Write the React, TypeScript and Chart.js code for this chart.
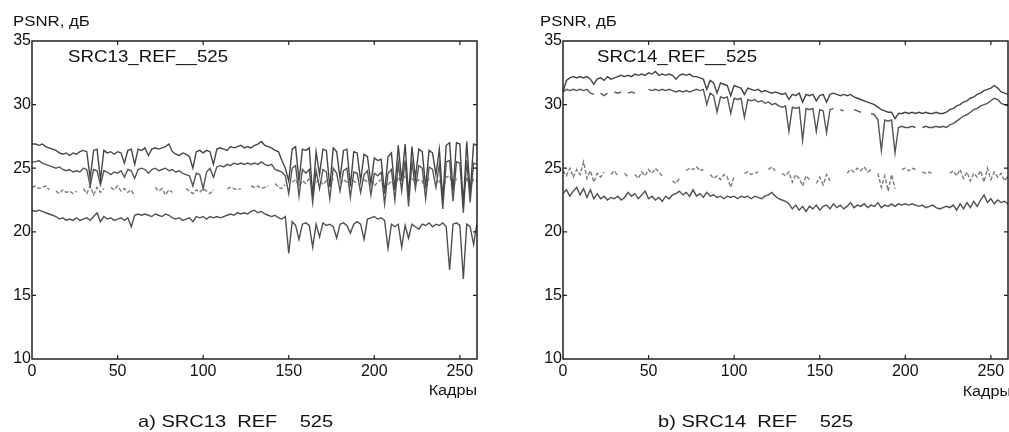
import React, { useEffect, useRef } from "react";
import { Chart, registerables } from "chart.js";
Chart.register(...registerables);

// frames 0..260, one sample every 2 frames
const FRAMES: number[] = Array.from({ length: 131 }, (_, i) => i * 2);
const X_TICKS = [0, 50, 100, 150, 200, 250];
const Y_TICKS = [10, 15, 20, 25, 30, 35];

// ---------- SRC13_REF__525 ----------
const L_TOP = [
  26.9, 26.9, 26.8, 26.9, 26.7, 26.6, 26.5, 26.4, 26.2, 26.1,
  26.2, 26.0, 26.2, 26.1, 26.3, 26.4, 26.3, 24.2, 26.4, 26.5,
  24.1, 26.4, 26.2, 26.3, 26.1, 26.3, 26.2, 25.4, 26.4, 26.5,
  25.3, 26.5, 26.4, 26.6, 26.0, 26.5, 26.6, 26.5, 26.6, 26.7,
  26.9, 26.3, 26.1, 26.0, 26.2, 26.1, 25.9, 25.0, 26.3, 26.4,
  26.2, 26.4, 26.3, 25.3, 26.5, 26.6, 26.5, 26.4, 26.7, 26.6,
  26.7, 26.8, 26.6, 26.7, 26.6, 26.8, 26.9, 27.1, 26.8, 26.7,
  26.6, 26.4, 26.3, 25.6, 25.0, 24.0, 26.5, 26.7, 24.0, 26.5,
  26.4, 26.6, 22.8, 26.3, 24.5, 26.5, 26.4, 23.5, 26.6, 26.3,
  24.2, 26.4, 26.5, 23.6, 26.3, 26.2, 24.0, 26.1, 25.9, 23.8,
  25.8, 25.6, 25.7, 23.0, 25.9, 26.2, 23.3, 26.8, 24.0, 26.9,
  22.8, 26.7, 24.2, 26.5, 26.3, 23.5, 26.4, 26.2, 24.5, 26.5,
  22.5, 26.8, 27.0, 23.2, 27.0, 26.9, 22.0, 27.1, 23.0, 26.9,
  26.8,
];
const L_SECOND = [
  25.5, 25.5, 25.6, 25.4, 25.3, 25.2, 25.1, 25.0, 25.1, 24.9,
  24.8, 24.9, 24.7, 24.8, 24.7, 25.0, 24.9, 23.6, 24.9, 24.8,
  23.7, 24.8, 24.7, 24.5, 24.7, 24.6, 24.8, 24.3, 24.9, 24.8,
  24.2, 24.9, 25.0, 24.9, 24.6, 24.9, 25.0, 24.8, 24.9, 25.0,
  24.8, 24.9, 24.7, 24.8, 24.6, 24.5, 24.4, 23.6, 24.6, 24.5,
  23.4, 24.7, 25.0, 24.3, 25.1, 25.2, 25.1, 25.3, 25.2, 25.4,
  25.3, 25.4, 25.3, 25.4, 25.3, 25.4, 25.3, 25.5, 25.3, 25.2,
  25.3, 24.9, 24.8, 24.7, 24.4, 23.0, 25.0, 25.2, 22.8, 24.9,
  24.6, 24.9, 22.3, 24.8, 23.4, 24.9, 24.7, 22.6, 25.0, 24.6,
  23.2, 24.8, 25.0, 22.7, 24.7, 24.6, 23.1, 24.5, 24.8, 22.9,
  24.6, 24.4, 24.7, 22.2, 24.6, 24.9, 22.5, 25.4, 23.2, 25.6,
  22.0, 25.5, 23.4, 25.2, 25.0, 22.6, 25.1, 24.9, 23.5, 25.3,
  21.8, 25.5, 25.6, 22.4, 25.5, 25.4, 21.5, 25.6, 22.3, 25.4,
  25.3,
];
const L_THIRD = [
  23.5, 23.6, 23.4, 23.5, 23.6, 23.3, null, 23.2, 23.0, 23.3,
  23.1, 23.2, 23.0, 23.2, null, 23.4, 23.0, 23.6, 22.9, 23.5,
  23.1, 23.4, null, 23.5, 23.3, 23.6, 23.2, 23.4, 23.1, 23.3,
  22.8, null, null, null, null, null, 23.5, 23.2, 23.4, 22.9,
  23.3, 23.1, null, null, null, 23.4, 23.2, 23.0, 23.3, 23.1,
  23.4, 23.2, 23.0, 23.3, null, null, null, 23.4, 23.5, 23.4,
  23.3, 23.4, null, null, 23.6, 23.5, 23.6, 23.4, 23.5, 23.6,
  null, 23.8, 23.5, 23.4, 23.7, null, 23.9, 24.1, 23.6, 24.0,
  23.8, 24.2, null, 23.9, 24.1, 23.7, 24.0, 23.5, 24.2, null,
  23.8, 24.1, 23.9, 23.4, 24.0, 23.8, null, 24.1, 23.9, 24.2,
  23.6, 23.9, 24.1, null, 23.7, 24.0, 23.5, 24.3, 23.8, 24.4,
  null, 24.2, 23.9, 24.1, 24.0, 23.4, 24.2, null, 23.8, 24.1,
  23.2, 24.3, 24.4, 23.5, 24.2, null, 23.0, 24.3, 23.6, 24.1,
  24.0,
];
const L_BOTTOM = [
  21.7, 21.6, 21.7, 21.6, 21.5, 21.4, 21.3, 21.2, 21.0, 21.1,
  20.9, 21.0, 20.9, 21.1, 20.9, 21.0, 21.1, 20.9, 21.2, 21.5,
  20.8, 21.2, 21.0, 21.1, 20.9, 21.0, 21.1, 20.9, 21.1, 20.4,
  21.3, 21.4, 21.3, 21.4, 21.3, 21.2, 21.4, 21.3, 21.2, 21.4,
  21.3, 21.1, 21.0, 21.1, 20.9, 21.0, 21.1, 20.8, 21.2, 21.1,
  21.2, 21.0, 21.2, 21.1, 21.2, 21.1, 21.2, 21.3, 21.4, 21.3,
  21.5, 21.4, 21.5, 21.4, 21.6, 21.7, 21.5, 21.6, 21.4, 21.3,
  21.2, 21.3, 21.1, 21.0, 21.2, 18.3, 20.8, 20.5, 19.4, 20.6,
  20.7, 20.5, 18.8, 20.6, 19.6, 20.7, 20.5, 20.6, 20.4, 19.5,
  20.6, 20.7, 20.5, 19.9, 20.6, 20.8, 20.6, 19.4, 21.0, 21.1,
  21.2, 21.0, 21.1, 20.9, 18.7, 20.6, 20.4, 20.6, 18.8, 20.5,
  19.5, 20.6, 20.4, 20.2, 20.6, 20.5, 20.7, 20.4, 20.6, 20.5,
  20.7, 20.4, 17.0, 20.6, 20.7, 20.5, 16.3, 20.6, 20.4, 19.0,
  20.7,
];

// ---------- SRC14_REF__525 ----------
const R_TOP = [
  31.0, 31.9, 32.1, 32.2, 32.1, 32.2, 32.1, 32.2, 32.0, 31.6,
  32.0, 32.1, 31.9, 32.2, 32.0, 32.1, 32.2, 32.3, 32.2, 32.3,
  32.2, 32.4, 32.3, 32.4, 32.3, 32.5, 32.4, 32.6, 32.3, 32.4,
  32.3, 32.4, 32.3, 32.0, 32.3, 32.4, 32.3, 32.4, 32.2, 32.2,
  32.1, 32.0, 31.2, 31.9, 31.7, 30.9, 31.7, 31.6, 31.5, 30.7,
  31.5, 31.4, 31.3, 30.8, 31.3, 31.2, 31.1, 31.2, 31.0, 31.1,
  31.0, 30.9, 31.0, 30.9, 30.8, 30.9, 30.4, 30.8, 30.7, 30.9,
  30.2, 30.8, 30.7, 30.8, 30.3, 30.7, 30.8, 30.2, 30.8, 30.9,
  30.8, 30.7, 30.8, 30.7, 30.8, 30.6, 30.5, 30.4, 30.3, 30.2,
  30.1, 30.0, 29.8, 29.6, 29.5, 29.4, 29.4, 28.9, 29.3, 29.3,
  29.4, 29.3, 29.4, 29.3, 29.4, 29.3, 29.4, 29.3, 29.3, 29.4,
  29.3, 29.3, 29.4, 29.6, 29.7, 29.9, 30.0, 30.2, 30.3, 30.5,
  30.6, 30.8, 30.9, 31.1, 31.2, 31.3, 31.5, 31.3, 31.0, 30.9,
  30.8,
];
const R_SECOND = [
  31.0, 31.2, 31.1, 31.2, 31.1, 31.2, 31.1, 31.2, 30.9, 30.8,
  null, 30.9, 30.7, 30.9, null, 31.0, 30.9, 31.0, null, 30.9,
  31.0, 30.9, null, null, null, 31.2, 31.1, 31.2, 31.1, 31.2,
  31.1, 31.2, 31.1, 31.0, 31.1, 31.0, 31.1, 31.0, 31.1, 31.2,
  31.1, 31.2, 30.0, 30.9, 30.7, 29.4, 30.6, 30.5, 30.6, 29.3,
  30.5, 30.4, 30.5, 29.0, 30.4, 30.3, 30.4, 30.2, 30.3, 30.1,
  30.2, 30.0, 30.1, 29.9, 29.8, 29.9, 27.9, 29.8, 29.7, 29.8,
  27.2, 29.7, 29.6, 29.7, 27.9, 29.6, 29.5, 27.8, 29.6, 29.7,
  null, 29.6, 29.5, null, null, 29.6, 29.5, 29.4, null, null,
  29.3, 29.2, 28.8, 26.4, 28.8, 28.7, 28.8, 26.2, 28.2, 28.3,
  28.2, 28.2, 28.3, 28.2, null, 28.2, 28.3, 28.2, 28.2, 28.3,
  28.2, 28.3, 28.2, 28.4, 28.5, 28.7, 28.9, 29.1, 29.2, 29.4,
  29.6, 29.7, 29.9, 30.0, 30.1, 30.3, 30.5, 30.4, 30.1, 30.0,
  29.9,
];
const R_THIRD = [
  24.8, 24.4, 25.0, 24.3, 24.9, 24.5, 25.5, 24.2, 24.8, 23.9,
  24.6, 24.3, 24.7, null, 24.5, 24.8, 24.4, null, 24.6, 24.3,
  null, 24.5, 24.2, 24.7, 24.4, 24.9, 24.6, 25.0, 24.7, 24.4,
  null, null, 24.0, 23.8, 24.2, null, 24.8, 25.0, 24.9, 25.1,
  24.8, 24.9, null, 24.5, 24.2, 24.4, 24.1, 24.5, 24.3, 23.5,
  24.4, null, null, 24.6, 24.7, 24.5, 24.6, 24.7, null, null,
  24.9, 25.1, 24.8, null, 24.6, 24.4, 24.7, 23.9, 24.5, 24.2,
  23.6, 24.4, 24.1, null, 23.8, 24.3, 23.7, 24.5, 24.0, null,
  null, null, null, 24.6, 24.9, 24.7, 25.0, 24.8, 25.1, 24.7,
  24.9, null, 24.6, 23.5, 24.4, 23.2, 24.5, 23.4, null, 24.9,
  25.0, 24.8, 25.0, 24.9, null, 24.7, 24.6, 24.7, 24.5, null,
  null, null, null, 24.6, 24.8, 24.4, 24.9, 24.2, 24.7, 24.0,
  24.6, 24.3, 24.8, 23.9, 25.0, 24.1, 24.7, 24.3, 24.6, 24.0,
  24.4,
];
const R_BOTTOM = [
  23.0, 23.3, 22.8, 23.2, 23.5, 22.9, 23.4, 22.7, 23.3, 22.6,
  23.0, 22.6, 22.8, 22.5, 22.7, 22.6, 22.8, 22.5, 22.7, 23.1,
  22.8, 23.0, 22.6, 22.9, 23.2, 22.6, 22.8, 22.5, 22.7, 22.4,
  22.8, 22.6, 22.9, 23.0, 23.2, 22.9, 23.1, 22.8, 23.3, 22.8,
  23.0, 22.7, 23.1, 22.8, 22.9, 22.7, 22.8, 22.6, 22.8, 22.7,
  22.8, 22.6, 22.8, 22.7, 22.8, 22.6, 22.8, 22.7, 22.6, 22.8,
  22.9, 23.1, 22.8, 22.6, 22.5, 22.4, 22.2, 21.8, 22.1, 21.7,
  22.0, 21.6, 22.0, 21.8, 22.1, 21.7, 22.0, 22.1, 21.8, 22.2,
  21.9, 22.1, 21.8, 22.0, 22.3, 21.9, 22.1, 22.0, 22.2, 21.9,
  22.1, 22.0, 22.3, 21.9, 22.1, 22.0, 22.2, 22.0, 22.2, 22.1,
  22.2, 22.1, 22.2, 22.1, 22.0, 22.1, 21.9, 22.0, 22.1, 21.9,
  21.8, 21.9, 22.0, 21.9, 22.1, 21.7, 22.2, 21.8, 22.3, 21.9,
  22.4, 22.0, 22.5, 22.9, 22.3, 22.6, 22.2, 22.5, 22.3, 22.4,
  22.2,
];

const FONT = "'Liberation Sans', Arial, Helvetica, sans-serif";
const LINE_STYLES = [
  { color: "#454545", width: 1.4, dash: [] as number[] },
  { color: "#555555", width: 1.4, dash: [] as number[] },
  { color: "#7c7c7c", width: 1.4, dash: [4, 2] },
  { color: "#505050", width: 1.4, dash: [] as number[] },
];

const boxPlugin = {
  id: "boxTicks",
  afterDraw(chart: any) {
    const { ctx, chartArea: a, scales } = chart;
    ctx.save();
    ctx.strokeStyle = "#222";
    ctx.lineWidth = 1.5;
    ctx.strokeRect(a.left, a.top, a.right - a.left, a.bottom - a.top);
    ctx.lineWidth = 1.2;
    ctx.beginPath();
    const T = 4;
    Y_TICKS.slice(1, -1).forEach((v) => {
      const y = scales.y.getPixelForValue(v);
      ctx.moveTo(a.left, y);
      ctx.lineTo(a.left + T, y);
      ctx.moveTo(a.right, y);
      ctx.lineTo(a.right - T, y);
    });
    X_TICKS.slice(1).forEach((v) => {
      const x = scales.x.getPixelForValue(v);
      ctx.moveTo(x, a.bottom);
      ctx.lineTo(x, a.bottom - T);
      ctx.moveTo(x, a.top);
      ctx.lineTo(x, a.top + T);
    });
    ctx.stroke();
    ctx.restore();
  },
};

type PanelProps = {
  left: number;
  width: number;
  axisWidth: number;
  padRight: number;
  series: (number | null)[][];
};

function PanelChart({ left, width, axisWidth, padRight, series }: PanelProps) {
  const ref = useRef<HTMLCanvasElement | null>(null);
  useEffect(() => {
    if (!ref.current) return;
    const chart = new Chart(ref.current, {
      type: "line",
      data: {
        datasets: series.map((vals, si) => ({
          data: FRAMES.map((f, i) => ({ x: f, y: vals[i] ?? null })),
          borderColor: LINE_STYLES[si].color,
          borderWidth: LINE_STYLES[si].width,
          borderDash: LINE_STYLES[si].dash,
          pointRadius: 0,
          tension: 0,
          spanGaps: false,
          fill: false,
        })),
      },
      options: {
        animation: false,
        responsive: false,
        devicePixelRatio: 1,
        layout: { padding: { top: 41, left: 0, right: padRight, bottom: 0 } },
        plugins: { legend: { display: false }, tooltip: { enabled: false }, title: { display: false } },
        scales: {
          x: {
            type: "linear",
            min: 0,
            max: 260,
            afterBuildTicks: (s: any) => {
              s.ticks = X_TICKS.map((v) => ({ value: v }));
            },
            afterFit: (s: any) => {
              s.height = 432 - 359;
            },
            grid: { display: false, drawTicks: false },
            border: { display: false },
            ticks: { color: "#111", font: { family: FONT, size: 16 }, padding: 3, maxRotation: 0, autoSkip: false },
          },
          y: {
            type: "linear",
            min: 10,
            max: 35,
            afterBuildTicks: (s: any) => {
              s.ticks = Y_TICKS.map((v) => ({ value: v }));
            },
            afterFit: (s: any) => {
              s.width = axisWidth;
            },
            grid: { display: false, drawTicks: false },
            border: { display: false },
            ticks: { color: "#111", font: { family: FONT, size: 16 }, padding: 1, autoSkip: false },
          },
        },
      } as any,
      plugins: [boxPlugin],
    });
    return () => chart.destroy();
  }, []);
  return (
    <canvas
      ref={ref}
      width={width}
      height={432}
      style={{ position: "absolute", left, top: 0, width, height: 432 }}
    />
  );
}

const txt = (extra: React.CSSProperties): React.CSSProperties => ({
  position: "absolute",
  fontFamily: FONT,
  color: "#111",
  whiteSpace: "pre",
  ...extra,
});

export default function App() {
  return (
    <div
      style={{
        position: "fixed",
        left: 0,
        top: 0,
        width: 1009,
        height: 432,
        background: "#fff",
        overflow: "hidden",
      }}
    >
      <PanelChart left={0} width={505} axisWidth={32} padRight={28} series={[L_TOP, L_SECOND, L_THIRD, L_BOTTOM]} />
      <PanelChart left={505} width={504} axisWidth={58} padRight={1} series={[R_TOP, R_SECOND, R_THIRD, R_BOTTOM]} />

      <div style={txt({ left: 13, top: 13, fontSize: 14, lineHeight: "16px", transform: "scaleX(1.2)", transformOrigin: "left" })}>PSNR, дБ</div>
      <div style={txt({ left: 540, top: 13, fontSize: 14, lineHeight: "16px", transform: "scaleX(1.2)", transformOrigin: "left" })}>PSNR, дБ</div>

      <div style={txt({ left: 68, top: 47, fontSize: 17, lineHeight: "20px", transform: "scaleX(1.1)", transformOrigin: "left" })}>SRC13_REF__525</div>
      <div style={txt({ left: 597, top: 47, fontSize: 17, lineHeight: "20px", transform: "scaleX(1.1)", transformOrigin: "left" })}>SRC14_REF__525</div>

      <div style={txt({ right: 1009 - 477, top: 381, fontSize: 14, lineHeight: "18px", transform: "scaleX(1.15)", transformOrigin: "right" })}>Кадры</div>
      <div style={txt({ right: -2, top: 382, fontSize: 14, lineHeight: "18px", transform: "scaleX(1.15)", transformOrigin: "right" })}>Кадры</div>

      <div style={txt({ left: 138, top: 412, fontSize: 17, lineHeight: "20px", transform: "scaleX(1.18)", transformOrigin: "left" })}>a) SRC13  REF    525</div>
      <div style={txt({ left: 658, top: 412, fontSize: 17, lineHeight: "20px", transform: "scaleX(1.18)", transformOrigin: "left" })}>b) SRC14  REF    525</div>
    </div>
  );
}
